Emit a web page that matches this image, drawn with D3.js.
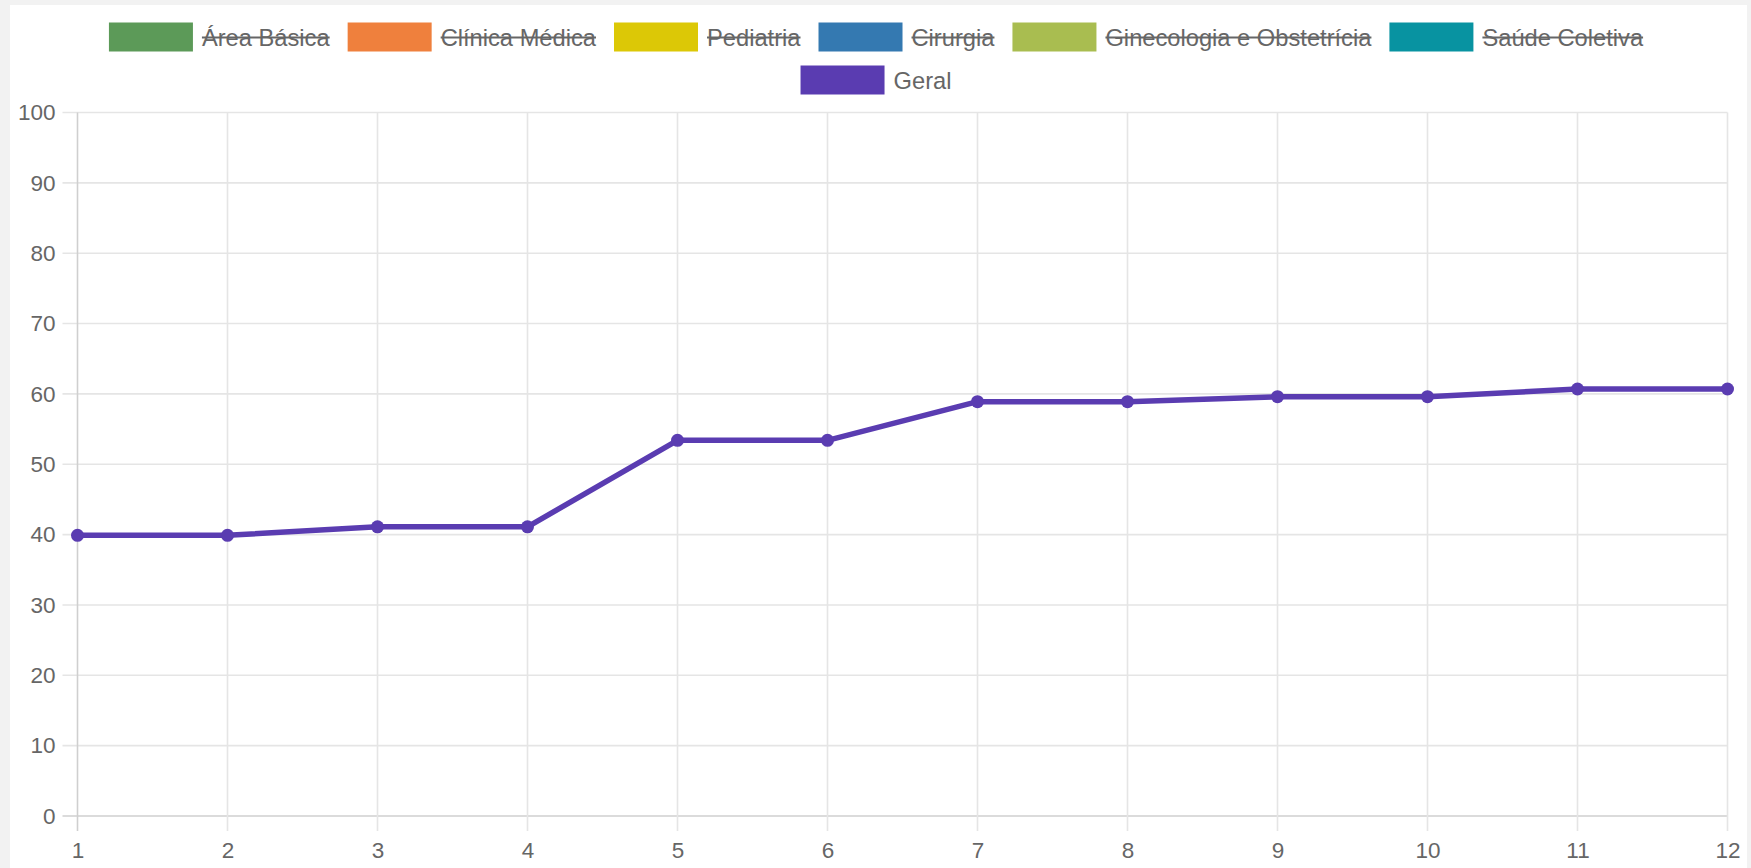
<!DOCTYPE html>
<html>
<head>
<meta charset="utf-8">
<script src="https://cdn.jsdelivr.net/npm/d3@7"></script>
<style>
  html, body { margin: 0; padding: 0; background: #f2f2f2; }
  svg { display: block; }
  text { font-family: "Liberation Sans", Arial, Helvetica, sans-serif; }
</style>
</head>
<body>
<svg id="chart" width="1751" height="868"></svg>
<script>
// ---- data ----
const categories = [1, 2, 3, 4, 5, 6, 7, 8, 9, 10, 11, 12];
const geralValues = [39.9, 39.9, 41.1, 41.1, 53.4, 53.4, 58.9, 58.9, 59.6, 59.6, 60.7, 60.7];
const legendLabels = ["Área Básica", "Clínica Médica", "Pediatria", "Cirurgia", "Ginecologia e Obstetrícia", "Saúde Coletiva", "Geral"];
const legendColors = ["#5c9a58", "#ef803d", "#dcc806", "#3479b1", "#a9bd50", "#0893a1", "#5a3cb1"];
const legendHidden = [true, true, true, true, true, true, false];
const yTicks = [0, 10, 20, 30, 40, 50, 60, 70, 80, 90, 100];

// ---- layout ----
const W = 1751, H = 868;
const plot = { left: 77.5, right: 1727.5, top: 112.5, bottom: 816 };
const fontSize = 22.5;
const legendFont = 23.7;
const textColor = "#666";

const svg = d3.select("#chart");

// card background
svg.append("rect").attr("x", 10).attr("y", 5).attr("width", 1737).attr("height", H)
  .attr("fill", "#ffffff");

const x = d3.scaleLinear().domain([1, 12]).range([plot.left, plot.right]);
const y = d3.scaleLinear().domain([0, 100]).range([plot.bottom, plot.top]);

// ---- grid ----
const grid = svg.append("g");
grid.selectAll("line.h").data(yTicks).join("line")
  .attr("x1", plot.left - 15).attr("x2", plot.right)
  .attr("y1", d => y(d)).attr("y2", d => y(d))
  .attr("stroke", d => d === 0 ? "#cfcfcf" : "#e5e5e5")
  .attr("stroke-width", 1.6);
grid.selectAll("line.v").data(categories).join("line")
  .attr("y1", plot.top).attr("y2", plot.bottom + 15)
  .attr("x1", d => x(d)).attr("x2", d => x(d))
  .attr("stroke", d => d === 1 ? "#cfcfcf" : "#e5e5e5")
  .attr("stroke-width", 1.6);

// ---- axes (labels via d3 axes) ----
const yAxis = d3.axisLeft(y).tickValues(yTicks).tickSize(0).tickPadding(0);
const gy = svg.append("g").attr("transform", `translate(${plot.left - 22},0)`).call(yAxis);
gy.select(".domain").remove();
gy.selectAll("text").attr("font-size", fontSize).attr("fill", textColor)
  .attr("font-family", '"Liberation Sans", Arial, sans-serif');

const xAxis = d3.axisBottom(x).tickValues(categories).tickFormat(d3.format("d")).tickSize(0).tickPadding(0);
const gx = svg.append("g").attr("transform", `translate(0,${plot.bottom + 26})`).call(xAxis);
gx.select(".domain").remove();
gx.selectAll("text").attr("font-size", fontSize).attr("fill", textColor)
  .attr("font-family", '"Liberation Sans", Arial, sans-serif');

// ---- line ----
const pts = categories.map((c, i) => [c, geralValues[i]]);
const line = d3.line().x(d => x(d[0])).y(d => y(d[1]));
svg.append("path").datum(pts)
  .attr("d", line).attr("fill", "none")
  .attr("stroke", legendColors[6]).attr("stroke-width", 5.5)
  .attr("stroke-linejoin", "round");
svg.append("g").selectAll("circle").data(pts).join("circle")
  .attr("cx", d => x(d[0])).attr("cy", d => y(d[1])).attr("r", 6.5)
  .attr("fill", legendColors[6]);

// ---- legend ----
const boxW = 84, boxH = 29, gapText = 9, itemPad = 18;
const legend = svg.append("g");
const measure = svg.append("text").attr("font-size", legendFont).attr("visibility", "hidden");
const widths = legendLabels.map(l => { measure.text(l); return measure.node().getComputedTextLength(); });
measure.remove();

const rows = [[0, 1, 2, 3, 4, 5], [6]];
const rowY = [37, 80];
const cx = 876;
rows.forEach((row, ri) => {
  const itemW = row.map(i => boxW + gapText + widths[i]);
  const total = d3.sum(itemW) + itemPad * (row.length - 1);
  let xx = cx - total / 2;
  row.forEach((i, k) => {
    const g = legend.append("g");
    g.append("rect").attr("x", xx).attr("y", rowY[ri] - boxH / 2)
      .attr("width", boxW).attr("height", boxH).attr("fill", legendColors[i]);
    g.append("text").attr("x", xx + boxW + gapText).attr("y", rowY[ri])
      .attr("dy", "0.36em").attr("font-size", legendFont).attr("fill", textColor)
      .text(legendLabels[i]);
    if (legendHidden[i]) {
      g.append("line").attr("x1", xx + boxW + gapText).attr("x2", xx + boxW + gapText + widths[i])
        .attr("y1", rowY[ri] + 0.5).attr("y2", rowY[ri] + 0.5)
        .attr("stroke", textColor).attr("stroke-width", 2);
    }
    xx += itemW[k] + itemPad;
  });
});
</script>
</body>
</html>
